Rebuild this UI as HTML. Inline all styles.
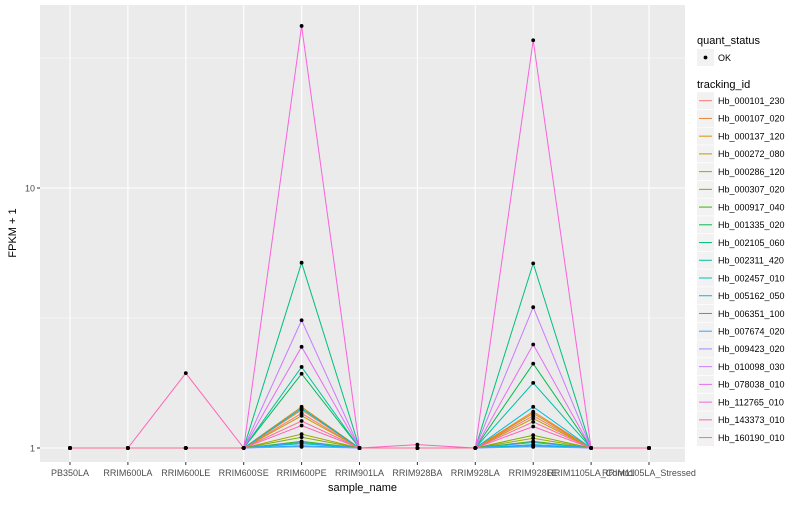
<!DOCTYPE html>
<html><head><meta charset="utf-8"><style>
body{margin:0;background:#fff;font-family:"Liberation Sans",sans-serif}
svg text{font-family:"Liberation Sans",sans-serif}
</style></head><body>
<svg id="c" width="800" height="500" xmlns="http://www.w3.org/2000/svg"></svg>
<script>
const samples=["PB350LA","RRIM600LA","RRIM600LE","RRIM600SE","RRIM600PE","RRIM901LA","RRIM928BA","RRIM928LA","RRIM928LE","RRIM1105LA_Control","RRIM1105LA_Stressed"];
const ids=["Hb_000101_230","Hb_000107_020","Hb_000137_120","Hb_000272_080","Hb_000286_120","Hb_000307_020","Hb_000917_040","Hb_001335_020","Hb_002105_060","Hb_002311_420","Hb_002457_010","Hb_005162_050","Hb_006351_100","Hb_007674_020","Hb_009423_020","Hb_010098_030","Hb_078038_010","Hb_112765_010","Hb_143373_010","Hb_160190_010"];
const colors=["#F8766D","#EA8331","#D89000","#C09B00","#A3A500","#7CAE00","#39B600","#00BB4E","#00BF7D","#00C1A3","#00BFC4","#00BAE0","#00B0F6","#35A2FF","#9590FF","#C77CFF","#E76BF3","#FA62DB","#FF62BC","#FF6C91"];
// values at RRIM600PE and RRIM928LE (FPKM+1); other samples ≈ 1
const pe=[1.36,1.40,1.44,1.33,1.13,1.10,1.06,1.93,5.16,2.05,1.04,1.42,1.02,1.05,1.01,3.1,2.45,42,1.22,1.27];
const le=[1.33,1.38,1.36,1.30,1.09,1.12,1.06,2.11,5.13,1.78,1.03,1.44,1.02,1.05,1.01,3.48,2.5,37,1.21,1.26];
const le600=[1,1,1,1,1,1,1,1,1,1,1,1,1,1,1,1,1,1,1.94,1];
const ba928=[1,1,1,1,1,1,1,1,1,1,1,1,1,1,1,1,1,1,1.03,1];
const yTicks=[1,10];

const svg=document.getElementById('c');
const NS="http://www.w3.org/2000/svg";
function el(t,a,p){const e=document.createElementNS(NS,t);for(const k in a)e.setAttribute(k,a[k]);(p||svg).appendChild(e);return e;}
const L=40,R=685,T=5,B=462;
const x=i=>70+i*57.9;
const y=v=>448-Math.log10(v)*260;

const panel=el('rect',{x:L,y:T,width:R-L,height:B-T,fill:'#EBEBEB'});


[Math.sqrt(10),Math.pow(10,1.5)].forEach(v=>el('line',{x1:L,x2:R,y1:y(v),y2:y(v),stroke:'#fff','stroke-width':0.5}));
yTicks.forEach(v=>{
  el('line',{x1:L,x2:R,y1:y(v),y2:y(v),stroke:'#fff','stroke-width':1.1});
  el('line',{x1:L-3,x2:L,y1:y(v),y2:y(v),stroke:'#333'});
  const t=el('text',{x:L-5,y:y(v)+3.5,'text-anchor':'end','font-size':9,fill:'#4D4D4D'});t.textContent=v;
  
  
});
samples.forEach((s,i)=>{
  el('line',{x1:x(i),x2:x(i),y1:T,y2:B,stroke:'#fff','stroke-width':1.1});
  el('line',{x1:x(i),x2:x(i),y1:B,y2:B+3,stroke:'#333'});
  const t=el('text',{x:x(i),y:B+14,'text-anchor':'middle','font-size':9,fill:'#4D4D4D'});t.textContent=s;
  
  
});
function seriesVals(k){return samples.map((s,i)=>i==2?le600[k]:i==4?pe[k]:i==6?ba928[k]:i==8?le[k]:1);}
ids.forEach((id,k)=>{
  const v=seriesVals(k);
  const p=el('polyline',{points:v.map((d,i)=>x(i)+','+y(d)).join(' '),fill:'none',stroke:colors[k],'stroke-width':1});
  
  
});
ids.forEach((id,k)=>{
  seriesVals(k).forEach((d,i)=>{
    const c=el('circle',{cx:x(i),cy:y(d),r:1.9,fill:'#000'});
    
    
  });
});
let t=el('text',{x:(L+R)/2,y:491,'text-anchor':'middle','font-size':11,fill:'#000'});t.textContent='sample_name';


t=el('text',{x:0,y:0,transform:'translate(16,233) rotate(-90)','text-anchor':'middle','font-size':11,fill:'#000'});t.textContent='FPKM + 1';


// legend
t=el('text',{x:697,y:44,'font-size':11});t.textContent='quant_status';


el('rect',{x:697,y:49,width:17,height:17,fill:'#F2F2F2'});
el('circle',{cx:705.5,cy:57.5,r:1.9,fill:'#000'});
t=el('text',{x:718,y:61,'font-size':9});t.textContent='OK';


t=el('text',{x:697,y:88,'font-size':11});t.textContent='tracking_id';


ids.forEach((id,k)=>{
  const cy=100.7+k*17.73;
  const g=el('g',{});
  
  
  el('rect',{x:697,y:cy-8.5,width:17,height:17,fill:'#F2F2F2'},g);
  el('line',{x1:699,x2:712,y1:cy,y2:cy,stroke:colors[k],'stroke-width':1},g);
  const tt=el('text',{x:718,y:cy+3.3,'font-size':9},g);tt.textContent=id;
});
</script>
</body></html>
